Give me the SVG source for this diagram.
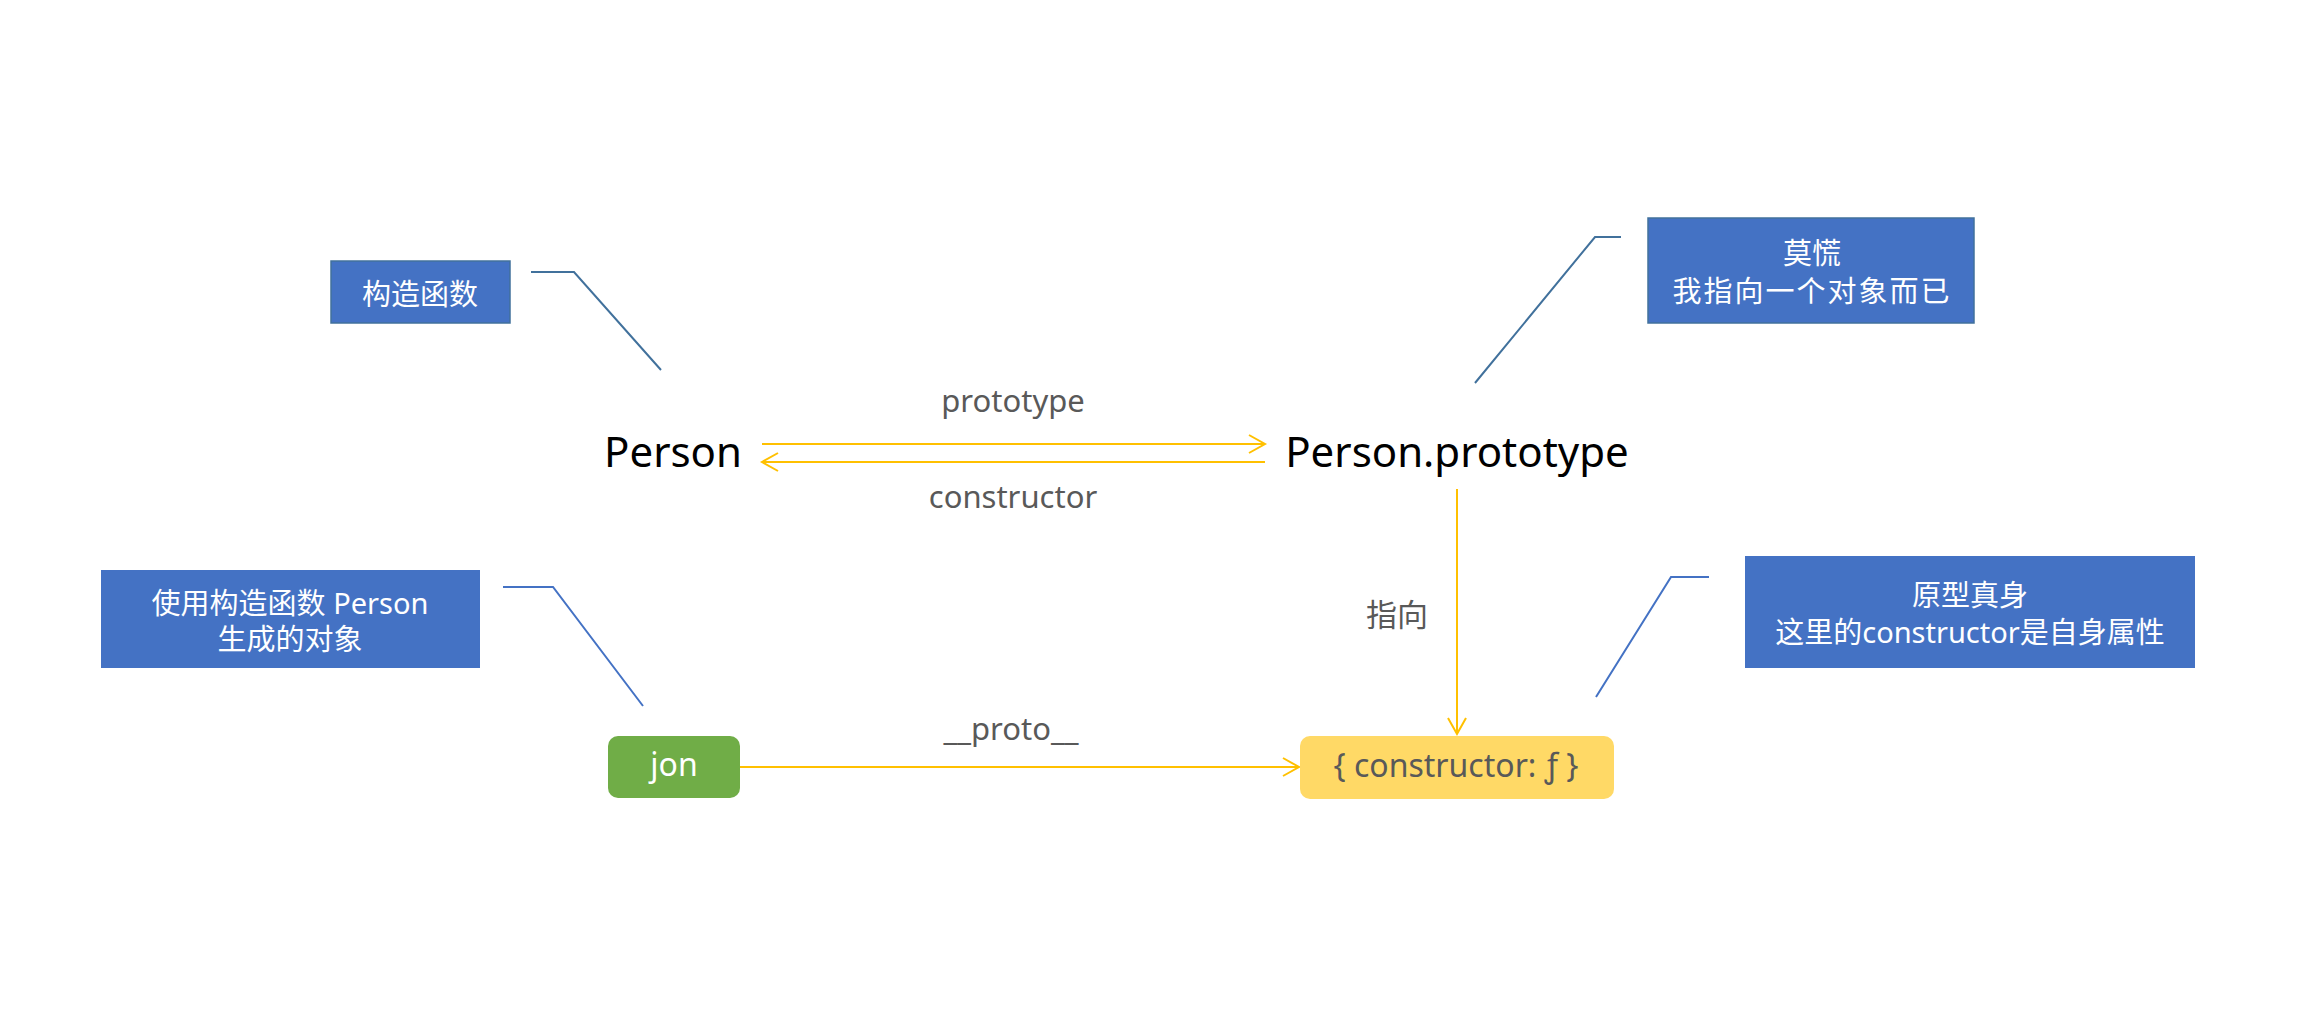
<svg xmlns="http://www.w3.org/2000/svg" width="2302" height="1034" viewBox="0 0 2302 1034">
<style>
.note{fill:#4472C4}
.note-b{fill:#4472C4;stroke:#41719C;stroke-width:1.5}
.nt{font-family:"Noto Sans","Noto Sans CJK SC",sans-serif;font-size:29px;fill:#fff;text-anchor:middle}
.cj{font-family:"Noto Sans CJK SC",sans-serif}
.big{font-family:"Noto Sans",sans-serif;font-size:42px;fill:#000;text-anchor:middle}
.lbl{font-family:"Noto Sans","Noto Sans CJK SC",sans-serif;font-size:31px;fill:#595959;text-anchor:middle}
.call1{fill:none;stroke:#41719C;stroke-width:2}
.call2{fill:none;stroke:#4472C4;stroke-width:2}
.arr{fill:none;stroke:#FFC000;stroke-width:2;marker-end:url(#ah)}
</style>
<defs>
<marker id="ah" markerUnits="userSpaceOnUse" markerWidth="20" markerHeight="22" refX="17" refY="10" orient="auto" viewBox="0 0 20 22">
<path d="M1,1 L17,10 L1,19" fill="none" stroke="#FFC000" stroke-width="2"/>
</marker>
</defs>
<rect width="2302" height="1034" fill="#fff"/>

<g id="connectors">
<line class="arr" x1="762" y1="444" x2="1265" y2="444"/>
<line class="arr" x1="1265" y1="462" x2="762" y2="462"/>
<line class="arr" x1="1457" y1="489" x2="1457" y2="734"/>
<line class="arr" x1="740" y1="767" x2="1299" y2="767"/>
<text class="lbl" x="1013" y="412">prototype</text>
<text class="lbl" x="1013" y="508">constructor</text>
<text class="lbl cj" x="1397" y="626">指向</text>
<text class="lbl" x="1011" y="740">__proto__</text>
<polyline class="call1" points="531,272 574,272 661,370"/>
<polyline class="call1" points="1475,383 1595,237 1621,237"/>
<polyline class="call2" points="503,587 553,587 643,706"/>
<polyline class="call2" points="1596,697 1671,577 1709,577"/>
</g>

<g id="person">
<text class="big" x="673" y="467">Person</text>
</g>
<g id="person-prototype">
<text class="big" x="1457" y="467">Person.prototype</text>
</g>
<g id="jon">
<rect x="608" y="736" width="132" height="62" rx="10" fill="#70AD47"/>
<text x="674" y="776" style="font-family:'Noto Sans',sans-serif;font-size:32px;fill:#fff;text-anchor:middle">jon</text>
</g>
<g id="proto-object">
<rect x="1300" y="736" width="314" height="63" rx="10" fill="#FFD966"/>
<text x="1456" y="777" style="font-family:'Noto Sans',sans-serif;font-size:32px;fill:#595959;text-anchor:middle">{ constructor: ƒ }</text>
</g>

<g id="note-constructor">
<rect class="note-b" x="331" y="261" width="179" height="62"/>
<text class="nt cj" x="420" y="305">构造函数</text>
</g>
<g id="note-prototype">
<rect class="note-b" x="1648" y="218" width="326" height="105"/>
<text class="nt"><tspan x="1812" y="264">莫慌</tspan><tspan x="1812" y="302" style="letter-spacing:2px">我指向一个对象而已</tspan></text>
</g>
<g id="note-jon">
<rect class="note" x="101" y="570" width="379" height="98"/>
<text class="nt"><tspan x="290" y="614">使用构造函数 Person</tspan><tspan x="290" y="650">生成的对象</tspan></text>
</g>
<g id="note-proto-object">
<rect class="note" x="1745" y="556" width="450" height="112"/>
<text class="nt"><tspan x="1970" y="606">原型真身</tspan><tspan x="1970" y="643">这里的constructor是自身属性</tspan></text>
</g>
</svg>
